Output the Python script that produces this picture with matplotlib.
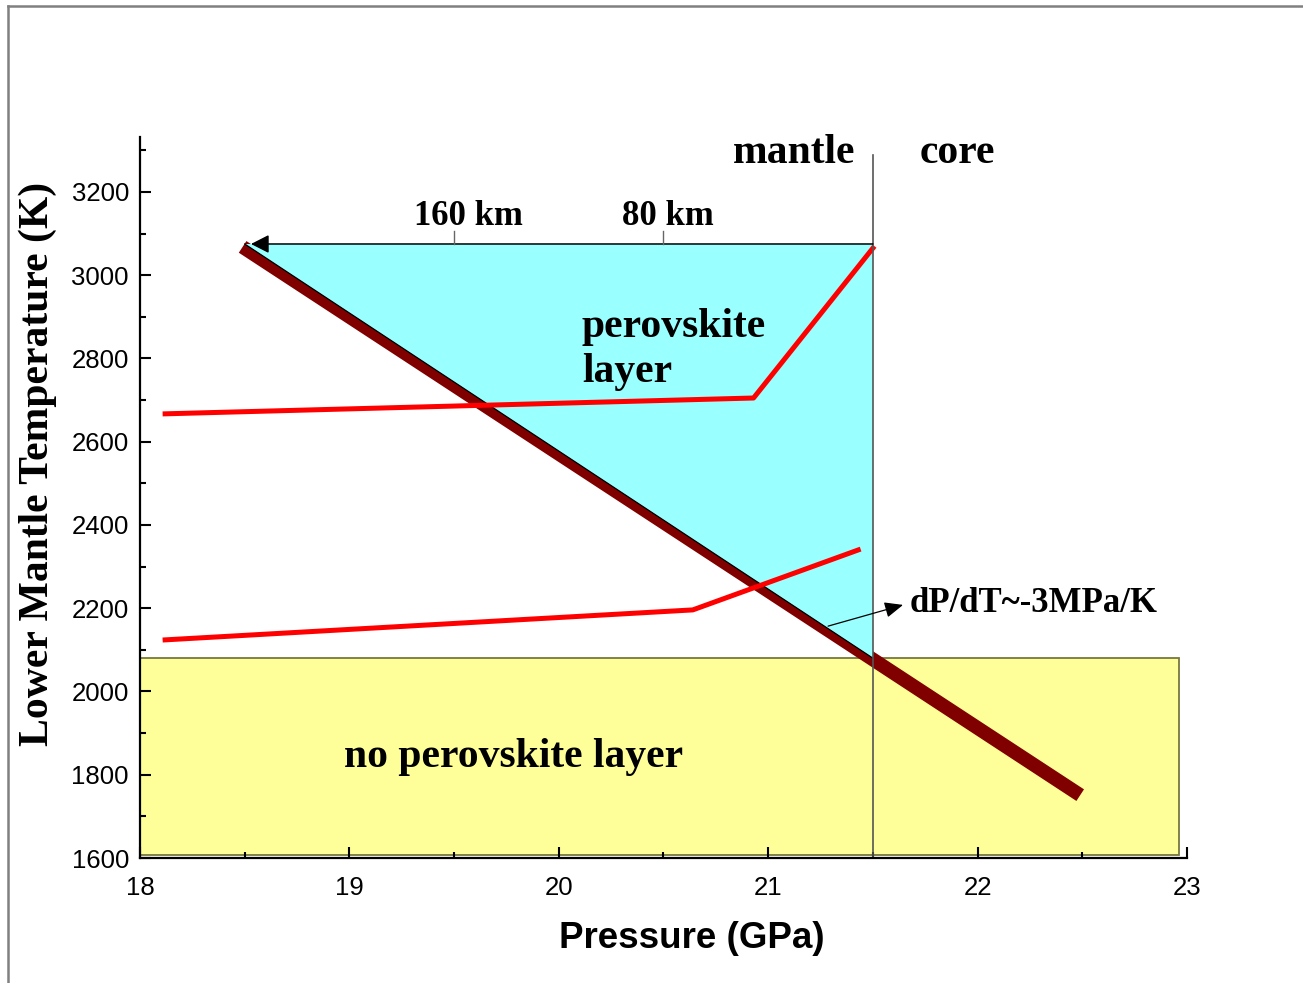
import matplotlib.pyplot as plt
from matplotlib.patches import Polygon, Rectangle
from matplotlib.lines import Line2D

# values (pressure in GPa, temperature in K)
triangle_P = [18.5, 21.5, 21.5]
triangle_T = [3075, 3075, 2080]

clapeyron_P = [18.49, 22.49]
clapeyron_T = [3068, 1751]

hot_P = [18.12, 20.93, 21.5]
hot_T = [2667, 2705, 3065]

cold_P = [18.12, 20.64, 21.43]
cold_T = [2124, 2196, 2340]

no_pv_P = [18.0, 22.96]
no_pv_T = [1607, 2080]

cmb_P = 21.5
cmb_T = [1600, 3289]

depth_P = [19.5, 20.5]
depth_labels = ["160 km", "80 km"]
depth_label_P = [19.31, 20.30]

x_ticks = [18, 19, 20, 21, 22, 23]
y_ticks = [1600, 1800, 2000, 2200, 2400, 2600, 2800, 3000, 3200]

serif = "Liberation Serif"
sans = "Liberation Sans"

fig = plt.figure(figsize=(13.03, 9.83), dpi=100)
ax = fig.add_axes([140 / 1303, 125 / 983, 1047 / 1303, 721 / 983])
ax.set_xlim(18, 23)
ax.set_ylim(1600, 3332)

# no perovskite region
ax.add_patch(Rectangle((no_pv_P[0], no_pv_T[0]), no_pv_P[1] - no_pv_P[0],
                       no_pv_T[1] - no_pv_T[0], facecolor="#FFFF99",
                       edgecolor="#77773f", lw=1.3, zorder=1))

# Clapeyron slope (thick dark red)
ax.plot(clapeyron_P, clapeyron_T, color="#800000", lw=10, solid_capstyle="butt", zorder=2)

# perovskite layer triangle
ax.add_patch(Polygon(list(zip(triangle_P, triangle_T)), closed=True,
                     facecolor="#99FFFF", edgecolor="none", zorder=3))
ax.plot([triangle_P[0], triangle_P[2]], [triangle_T[0], triangle_T[2]],
        color="black", lw=0.9, zorder=3.5)

# geotherms
ax.plot(hot_P, hot_T, color="#FF0000", lw=3.6, zorder=4)
ax.plot(cold_P, cold_T, color="#FF0000", lw=3.6, zorder=4)

# core-mantle boundary
ax.plot([cmb_P, cmb_P], cmb_T, color="#555555", lw=1.2, zorder=5)

# depth arrow along the top of the triangle
ax.annotate("", xy=(triangle_P[0] + 0.03, triangle_T[0]), xytext=(triangle_P[1], triangle_T[1]),
            arrowprops=dict(arrowstyle="-|>,head_length=0.55,head_width=0.28",
                            mutation_scale=20, color="black", lw=1.1,
                            shrinkA=0, shrinkB=0), zorder=6)
for p, lab, lp in zip(depth_P, depth_labels, depth_label_P):
    ax.plot([p, p], [triangle_T[0], triangle_T[0] + 30], color="#666666", lw=1, zorder=6)
    ax.text(lp, 3121, lab, fontsize=25, fontweight="bold", family=serif,
            ha="left", va="baseline", zorder=7)

ax.text(21.414, 3270, "mantle", fontsize=30, fontweight="bold", family=serif,
        ha="right", va="baseline")
ax.text(21.725, 3270, "core", fontsize=30, fontweight="bold", family=serif,
        ha="left", va="baseline")
ax.text(20.11, 2852, "perovskite", fontsize=30, fontweight="bold", family=serif,
        ha="left", va="baseline", zorder=7)
ax.text(20.11, 2744, "layer", fontsize=30, fontweight="bold", family=serif,
        ha="left", va="baseline", zorder=7)
ax.text(18.974, 1819, "no perovskite layer", fontsize=30, fontweight="bold",
        family=serif, ha="left", va="baseline", zorder=7)

ax.annotate("", xy=(21.644, 2208), xytext=(21.286, 2157),
            arrowprops=dict(arrowstyle="-|>,head_length=0.7,head_width=0.3",
                            mutation_scale=16, color="black", lw=0.9,
                            shrinkA=0, shrinkB=0), zorder=6)
ax.text(21.677, 2191, "dP/dT~-3MPa/K", fontsize=25, fontweight="bold",
        family=serif, ha="left", va="baseline")

# axes styling
for s in ["top", "right"]:
    ax.spines[s].set_visible(False)
for s in ["left", "bottom"]:
    ax.spines[s].set_linewidth(1.6)
    ax.spines[s].set_zorder(8)

ax.set_xticks(x_ticks)
ax.set_xticks([18.5, 19.5, 20.5, 21.5, 22.5], minor=True)
ax.set_yticks(y_ticks)
ax.set_yticks(range(1700, 3400, 200), minor=True)
ax.tick_params(which="both", direction="in", width=1.5, labelsize=18.5)
ax.tick_params(which="major", length=8)
ax.tick_params(which="minor", length=4)
ax.tick_params(axis="x", pad=13)
ax.tick_params(axis="y", pad=8)
for lab in ax.get_xticklabels() + ax.get_yticklabels():
    lab.set_family(sans)

fig.text(692 / 1303, 1 - 938 / 983, "Pressure (GPa)", fontsize=26.5, fontweight="bold",
         family=sans, ha="center", va="center")
fig.text(38 / 1303, 1 - 464 / 983, "Lower Mantle Temperature (K)", fontsize=30,
         fontweight="bold", family=serif, rotation=90, ha="center", va="center")

# slide border
fig.add_artist(Line2D([8 / 1303, 1.0], [1 - 6 / 983, 1 - 6 / 983], color="#808080", lw=1.8))
fig.add_artist(Line2D([8 / 1303, 8 / 1303], [0, 1 - 6 / 983], color="#808080", lw=1.8))

fig.savefig("out.png", dpi=100)
